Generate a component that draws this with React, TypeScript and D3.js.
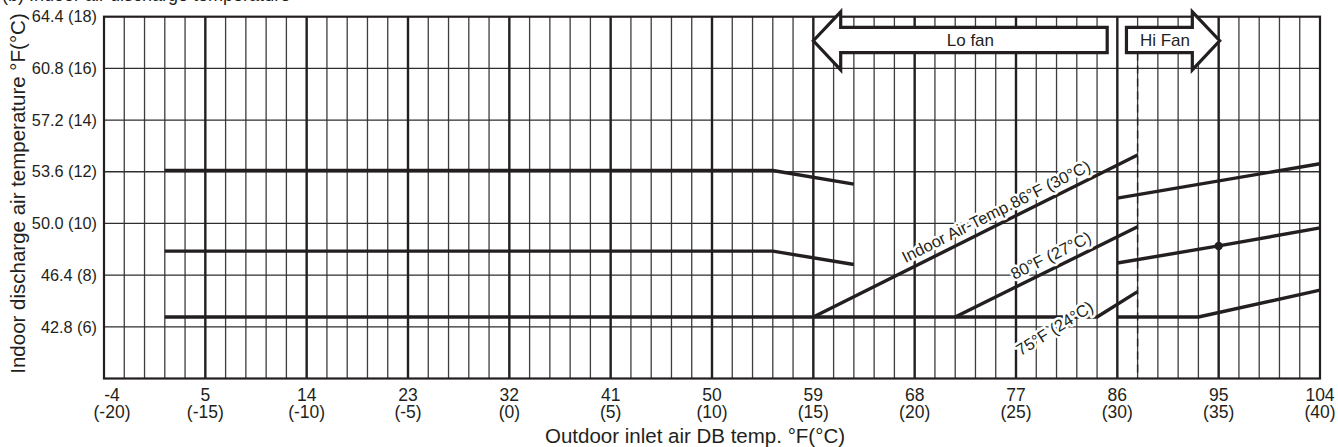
import React from "react";
import * as d3 from "d3";

// ---- data (°C) ----
const xTicksC = [-20, -15, -10, -5, 0, 5, 10, 15, 20, 25, 30, 35, 40];
const xTicksF = ["-4", "5", "14", "23", "32", "41", "50", "59", "68", "77", "86", "95", "104"];
const yTicksC = [6, 8, 10, 12, 14, 16, 18];
const yTicksF = ["42.8", "46.4", "50.0", "53.6", "57.2", "60.8", "64.4"];

const loTopX = [-17, 13, 17];
const loTopY = [12.05, 12.05, 11.52];
const loMidX = [-17, 13, 17];
const loMidY = [8.93, 8.93, 8.41];
const loBotX = [-17, 29, 31];
const loBotY = [6.38, 6.38, 7.36];
const in86X = [15, 31];
const in86Y = [6.38, 12.65];
const in80X = [22, 31];
const in80Y = [6.38, 9.87];
const hiTopX = [30, 40];
const hiTopY = [10.98, 12.31];
const hiMidX = [30, 35, 40];
const hiMidY = [8.47, 9.13, 9.83];
const hiBotX = [30, 34, 40];
const hiBotY = [6.38, 6.38, 7.42];
const dotX = [35];
const dotY = [9.13];

const loArrowX = [15, 16.35, 16.35, 29.5, 29.5, 16.35, 16.35];
const loArrowY = [17.07, 18.19, 17.59, 17.59, 16.61, 16.61, 15.94];
const hiArrowX = [30.45, 33.7, 33.7, 35.05, 33.7, 33.7, 30.45];
const hiArrowY = [17.59, 17.59, 18.19, 17.07, 15.94, 16.61, 16.61];
const dashX = 31;
const dashTop = 16.61;

const W = 1338;
const H = 447;
const M = { left: 104, right: 1320, top: 16.7, bottom: 378.5 };
const INK = "#231f20";
const FONT = "'Liberation Sans', Arial, Helvetica, sans-serif";

const x = d3.scaleLinear().domain([-20, 40]).range([M.left, M.right]);
const y = d3.scaleLinear().domain([4, 18]).range([M.bottom, M.top]);

const lineGen = d3
  .line<[number, number]>()
  .x((d) => x(d[0]))
  .y((d) => y(d[1]));

const zip = (a: number[], b: number[]) => a.map((v, i) => [v, b[i]] as [number, number]);

const series = [
  zip(loTopX, loTopY),
  zip(loMidX, loMidY),
  zip(loBotX, loBotY),
  zip(in86X, in86Y),
  zip(in80X, in80Y),
  zip(hiTopX, hiTopY),
  zip(hiMidX, hiMidY),
  zip(hiBotX, hiBotY),
];

function LineLabel({
  xs,
  ys,
  at,
  atY,
  text,
  off,
  seg = 0,
}: {
  xs: number[];
  ys: number[];
  at: number;
  atY?: number;
  text: string;
  off: number;
  seg?: number;
}) {
  const x1 = x(xs[seg]);
  const y1 = y(ys[seg]);
  const x2 = x(xs[seg + 1]);
  const y2 = y(ys[seg + 1]);
  const ang = (Math.atan2(y2 - y1, x2 - x1) * 180) / Math.PI;
  const px = x(at);
  const py = atY !== undefined ? y(atY) : y1 + ((px - x1) / (x2 - x1)) * (y2 - y1);
  return (
    <g transform={`translate(${px},${py}) rotate(${ang})`}>
      <text
        x={0}
        y={-off}
        textAnchor="middle"
        fontSize={16.5}
        fontFamily={FONT}
        fill={INK}
        stroke="#fff"
        strokeWidth={5}
        strokeLinejoin="round"
        style={{ paintOrder: "stroke" }}
      >
        {text}
      </text>
    </g>
  );
}

export default function App() {
  const minorX = d3.range(-19, 40).filter((v) => v % 5 !== 0);
  const majorX = d3.range(-15, 40, 5);
  const gridY = d3.range(6, 18, 2);
  const arrowPts = (xs: number[], ys: number[]) => xs.map((v, i) => `${x(v)},${y(ys[i])}`).join(" ");

  return (
    <svg
      width={W}
      height={H}
      style={{ position: "absolute", left: 0, top: 0, background: "#fff" }}
      fontFamily={FONT}
    >
      <rect x={0} y={0} width={W} height={H} fill="#fff" />
      {/* title, cut off at the top edge as in the reference */}
      <text x={2} y={0.8} fontSize={18} fill={INK}>
        (b) Indoor air discharge temperature
      </text>

      {/* grid */}
      {minorX.map((v) => (
        <line key={"mx" + v} x1={x(v)} x2={x(v)} y1={M.top} y2={M.bottom} stroke="#3d3d3d" strokeWidth={1.3} />
      ))}
      {gridY.map((v) => (
        <line key={"gy" + v} x1={M.left} x2={M.right} y1={y(v)} y2={y(v)} stroke="#2e2e2e" strokeWidth={1.3} />
      ))}
      {majorX.map((v) => (
        <line key={"Mx" + v} x1={x(v)} x2={x(v)} y1={M.top} y2={M.bottom} stroke={INK} strokeWidth={2.4} />
      ))}
      <rect
        x={M.left}
        y={M.top}
        width={M.right - M.left}
        height={M.bottom - M.top}
        fill="none"
        stroke={INK}
        strokeWidth={2.2}
      />

      {/* dashed line */}
      <line
        x1={x(dashX)}
        x2={x(dashX)}
        y1={y(dashTop)}
        y2={M.bottom}
        stroke={INK}
        strokeWidth={1.4}
        strokeDasharray="8,5"
      />

      {/* data lines */}
      {series.map((s, i) => (
        <path key={"s" + i} d={lineGen(s) || ""} fill="none" stroke={INK} strokeWidth={3.4} strokeLinejoin="round" />
      ))}
      {dotX.map((v, i) => (
        <circle key={"d" + i} cx={x(v)} cy={y(dotY[i])} r={4.2} fill={INK} />
      ))}

      {/* line labels */}
      <LineLabel xs={in86X} ys={in86Y} at={24.3} text="Indoor Air-Temp.86°F (30°C)" off={7} />
      <LineLabel xs={in80X} ys={in80Y} at={27.0} text="80°F (27°C)" off={7} />
      <LineLabel xs={loBotX} ys={loBotY} seg={1} at={26.9} atY={5.95} text="75°F (24°C)" off={-6} />

      {/* fan arrows */}
      <polygon points={arrowPts(loArrowX, loArrowY)} fill="#fff" stroke={INK} strokeWidth={3.2} strokeLinejoin="miter" />
      <polygon points={arrowPts(hiArrowX, hiArrowY)} fill="#fff" stroke={INK} strokeWidth={3.2} strokeLinejoin="miter" />
      <text x={x(22.75)} y={y(17.1)} dy="0.35em" textAnchor="middle" fontSize={17} fill={INK}>
        Lo fan
      </text>
      <text x={x(32.35)} y={y(17.1)} dy="0.35em" textAnchor="middle" fontSize={17} fill={INK}>
        Hi Fan
      </text>

      {/* y ticks */}
      {yTicksC.map((v, i) => (
        <text key={"yt" + v} x={M.left - 7} y={y(v)} dy="0.35em" textAnchor="end" fontSize={16.3} fill={INK}>
          {`${yTicksF[i]} (${v})`}
        </text>
      ))}
      {/* x ticks */}
      {xTicksC.map((v, i) => (
        <g key={"xt" + v} transform={`translate(${x(v) + (i === 0 ? 8 : 0)},0)`}>
          <text y={M.bottom + 22} textAnchor="middle" fontSize={17.5} fill={INK}>
            {xTicksF[i]}
          </text>
          <text y={M.bottom + 39.5} textAnchor="middle" fontSize={17.5} fill={INK}>
            {`(${v})`}
          </text>
        </g>
      ))}

      {/* axis titles */}
      <text x={695} y={M.bottom + 64.5} textAnchor="middle" fontSize={20.5} fill={INK}>
        Outdoor inlet air DB temp. °F(°C)
      </text>
      <text
        transform={`translate(${25},${193.5}) rotate(-90)`}
        textAnchor="middle"
        fontSize={20.5}
        fill={INK}
      >
        Indoor discharge air temperature °F(°C)
      </text>
    </svg>
  );
}
